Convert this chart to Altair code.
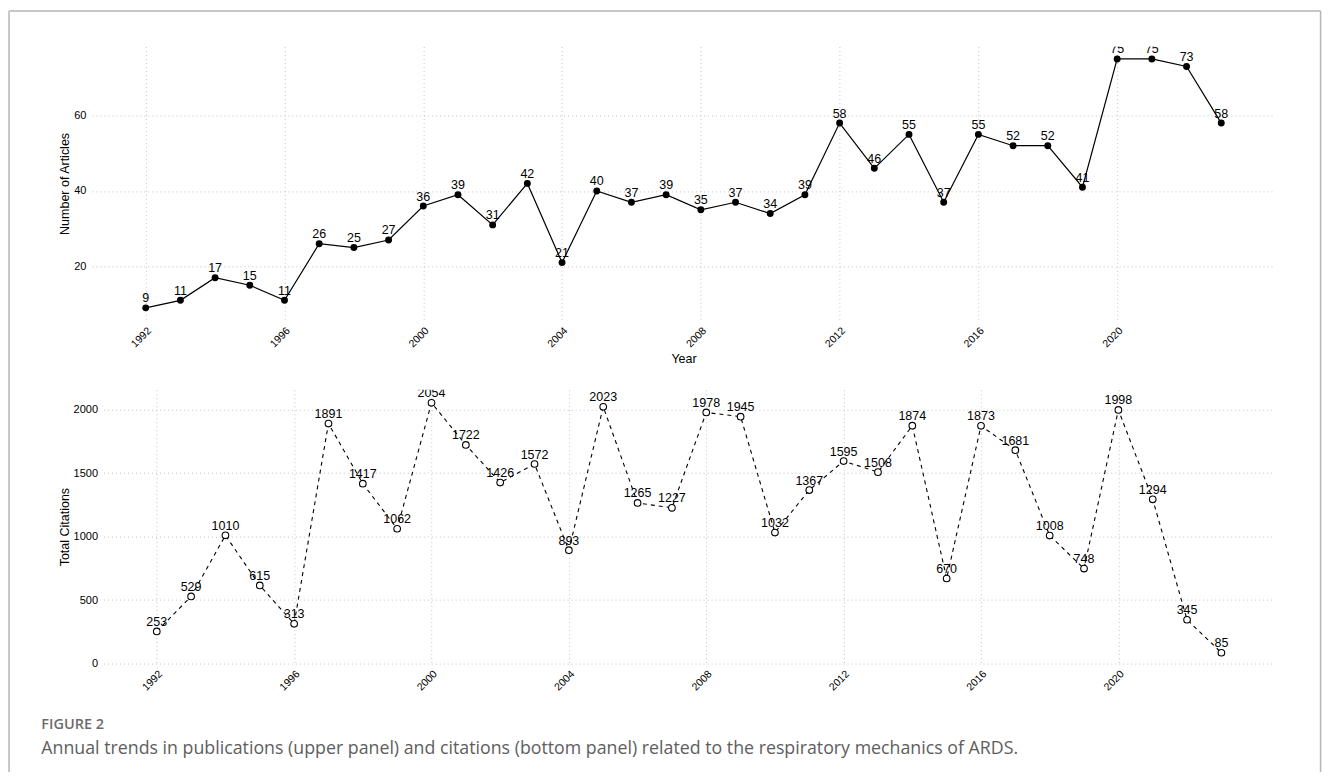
import altair as alt
import pandas as pd

years = list(range(1992, 2024))
articles = [9, 11, 17, 15, 11, 26, 25, 27, 36, 39, 31, 42, 21, 40, 37, 39,
            35, 37, 34, 39, 58, 46, 55, 37, 55, 52, 52, 41, 75, 75, 73, 58]
citations = [253, 529, 1010, 615, 313, 1891, 1417, 1062, 2054, 1722, 1426,
             1572, 893, 2023, 1265, 1227, 1978, 1945, 1032, 1367, 1595, 1508,
             1874, 670, 1873, 1681, 1008, 748, 1998, 1294, 345, 85]
year_ticks = [1992, 1996, 2000, 2004, 2008, 2012, 2016, 2020]
article_ticks = [20, 40, 60]
citation_ticks = [0, 500, 1000, 1500, 2000]
fig_label = "FIGURE 2"
caption = ("Annual trends in publications (upper panel) and citations (bottom panel) "
           "related to the respiratory mechanics of ARDS.")

df = pd.DataFrame({"Year": years, "Articles": articles, "Citations": citations})

FONT = "Liberation Sans"
grid_kw = dict(grid=True, gridDash=[1, 3], gridColor="#c4c4c4", gridWidth=1,
               ticks=False, domain=False, labelFont=FONT, labelColor="#000000",
               titleFont=FONT, titleFontWeight="normal", titleColor="#000000",
               titleFontSize=12.5)


def x_axis(title=None):
    kw = dict(values=year_ticks, format="d", labelAngle=-45, labelFontSize=10.5,
              labelPadding=5, labelOverlap=False, **grid_kw)
    if title:
        kw.update(title=title, titlePadding=3)
    else:
        kw.update(title=None)
    return alt.Axis(**kw)


def y_axis(title, ticks):
    return alt.Axis(values=ticks, format="d", title=title, labelFontSize=11,
                    labelPadding=6, titlePadding=2, **grid_kw)


# ---------------- top panel ----------------
xs_top = alt.X("Year:Q", scale=alt.Scale(domain=[1990.45, 2024.55], nice=False, zero=False),
               axis=x_axis("Year"))
ys_top = alt.Y("Articles:Q", scale=alt.Scale(domain=[5.7, 78.3], nice=False, zero=False),
               axis=y_axis("Number of Articles", article_ticks))

base_top = alt.Chart(df).encode(x=xs_top, y=ys_top)
top = alt.layer(
    base_top.mark_line(color="#000000", strokeWidth=1.2),
    base_top.mark_point(filled=True, color="#000000", size=48, opacity=1),
    base_top.mark_text(dy=-5.5, baseline="alphabetic", fontSize=12.5, font=FONT,
                       color="#000000", clip=True).encode(text="Articles:Q"),
).properties(width=1184, height=274)

# ---------------- bottom panel ----------------
xs_bot = alt.X("Year:Q", scale=alt.Scale(domain=[1990.45, 2024.55], nice=False, zero=False),
               axis=x_axis(None))
ys_bot = alt.Y("Citations:Q", scale=alt.Scale(domain=[0, 2157], nice=False, zero=False),
               axis=y_axis("Total Citations", citation_ticks))

base_bot = alt.Chart(df).encode(x=xs_bot, y=ys_bot)

# outer figure frame (left, top, right edges), in bottom-panel pixel space
LX, RX, TY, BY = -94.55, 1217.95, -379, 382.5
one = pd.DataFrame({"f": [0]})
frame_kw = dict(color="#b5b5b5", strokeWidth=1.5)
frame_left = alt.Chart(one).mark_rule(**frame_kw).encode(
    x=alt.value(LX), y=alt.value(TY), y2=alt.value(BY))
frame_right = alt.Chart(one).mark_rule(**frame_kw).encode(
    x=alt.value(RX), y=alt.value(TY), y2=alt.value(BY))
frame_top = alt.Chart(one).mark_rule(**frame_kw).encode(
    x=alt.value(LX), x2=alt.value(RX), y=alt.value(TY))

fig_text = alt.Chart(pd.DataFrame({"t": [fig_label]})).mark_text(
    align="left", baseline="middle", font="Open Sans", fontSize=14.5, fontWeight=600,
    color="#6b6b6b"
).encode(text="t:N", x=alt.value(-62.3), y=alt.value(336))

cap_text = alt.Chart(pd.DataFrame({"t": [caption]})).mark_text(
    align="left", baseline="middle", font="Open Sans", fontSize=17.8, color="#5e5e5e"
).encode(text="t:N", x=alt.value(-62.3), y=alt.value(360))

bottom = alt.layer(
    frame_left, frame_right, frame_top,
    base_bot.mark_line(color="#000000", strokeWidth=1.1, strokeDash=[4, 4]),
    base_bot.mark_point(shape="circle", filled=True, fill="#ffffff", stroke="#000000",
                        strokeWidth=1.1, size=44, opacity=1),
    base_bot.mark_text(dy=-5.5, baseline="alphabetic", fontSize=12.5, font=FONT,
                       color="#000000", clip=True).encode(text="Citations:Q"),
    fig_text,
    cap_text,
).properties(width=1172, height=274)

spacer = alt.Chart(pd.DataFrame({"a": [0]})).mark_point(opacity=0).encode(
    x=alt.X("a:Q", axis=None), y=alt.Y("a:Q", axis=None)
).properties(width=1, height=1)

bottom_row = alt.hconcat(spacer, bottom, spacing=10.6, bounds="flush")

chart = alt.vconcat(top, bottom_row, spacing=69.5, bounds="flush").properties(
    padding={"left": 0, "top": 1.25, "right": 0, "bottom": 0},
    background="#ffffff",
).configure_view(stroke=None)

chart.save("out.html", embed_options={"renderer": "svg", "actions": False})
